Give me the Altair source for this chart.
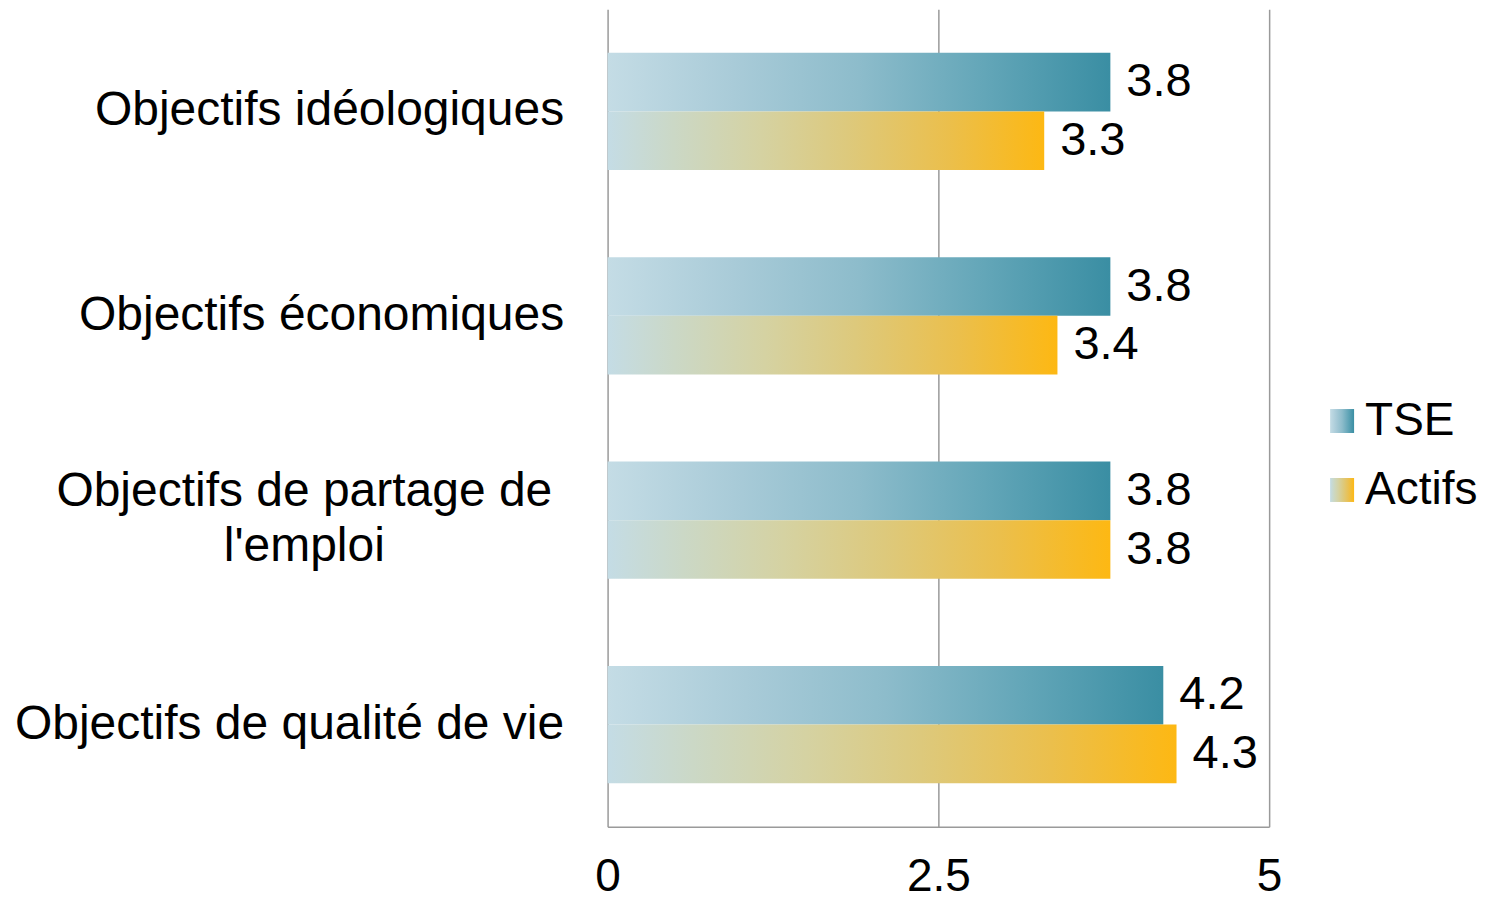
import altair as alt
import pandas as pd

categories = ["Objectifs idéologiques", "Objectifs économiques",
              "Objectifs de partage de l'emploi", "Objectifs de qualité de vie"]
series = ["TSE", "Actifs"]
tse_values = [3.8, 3.8, 3.8, 4.2]
actifs_values = [3.3, 3.4, 3.8, 4.3]
x_ticks = [0, 2.5, 5]

rows = []
for c, t, a in zip(categories, tse_values, actifs_values):
    rows.append({"cat": c, "series": "TSE", "value": t})
    rows.append({"cat": c, "series": "Actifs", "value": a})
df = pd.DataFrame(rows)
legend_df = pd.DataFrame({"series": series, "row": [0, 1]})

FONT = "Liberation Sans"

grad_tse = {"gradient": "linear", "x1": 0, "x2": 1, "y1": 0, "y2": 0,
            "stops": [{"offset": 0, "color": "#c4dce5"},
                      {"offset": 0.25, "color": "#a9cbd8"},
                      {"offset": 0.5, "color": "#8dbccb"},
                      {"offset": 0.75, "color": "#63a6b8"},
                      {"offset": 1, "color": "#3a8ea3"}]}
grad_act = {"gradient": "linear", "x1": 0, "x2": 1, "y1": 0, "y2": 0,
            "stops": [{"offset": 0, "color": "#c4dce5"},
                      {"offset": 0.15, "color": "#cbd8c6"},
                      {"offset": 0.35, "color": "#d5d2a2"},
                      {"offset": 0.55, "color": "#ddc97c"},
                      {"offset": 0.78, "color": "#ebbf4c"},
                      {"offset": 1, "color": "#fdb813"}]}

fill_cond = alt.condition(alt.datum.series == "TSE", alt.value(grad_tse), alt.value(grad_act))

is_wrap = "datum.label == \"Objectifs de partage de l'emploi\""

y_enc = alt.Y("cat:N", sort=categories, title=None,
              scale=alt.Scale(paddingInner=0.4265, paddingOuter=0.213),
              axis=alt.Axis(domain=False, ticks=False, labelFontSize=48, labelFont=FONT,
                            labelColor="#000000", labelLimit=700,
                            labelExpr=is_wrap + " ? ['Objectifs de partage de', \"l'emploi\"] : datum.label",
                            labelLineHeight=55,
                            labelAlign={"condition": {"test": is_wrap, "value": "center"}, "value": "right"},
                            labelOffset={"condition": {"test": is_wrap, "value": -28}, "value": 0},
                            labelPadding={"condition": {"test": is_wrap, "value": 304}, "value": 44}))
yoff = alt.YOffset("series:N", sort=series)
x_enc = alt.X("value:Q", title=None, scale=alt.Scale(domain=[0, 5], nice=False),
              axis=alt.Axis(values=x_ticks, grid=True, gridColor="#9a9a9a", gridWidth=1.5,
                            domainColor="#9a9a9a", domainWidth=1.5, ticks=False,
                            labelFontSize=46, labelFont=FONT, labelColor="#000000",
                            labelPadding=28, labelFlush=False,
                            labelExpr="datum.value == 2.5 ? '2.5' : datum.value"))

bars = alt.Chart(df).mark_bar().encode(y=y_enc, yOffset=yoff, x=x_enc, color=fill_cond)
labels = alt.Chart(df).mark_text(align="left", baseline="middle", dx=16, fontSize=47,
                                 font=FONT, color="#000000").encode(
    y=alt.Y("cat:N", sort=categories), yOffset=yoff, x="value:Q",
    text=alt.Text("value:Q", format=".1f"))

main = alt.layer(bars, labels).properties(width=662, height=818)

leg_y = alt.Y("row:Q", axis=None, scale=alt.Scale(domain=[-5.971, 5.884], reverse=True, nice=False, zero=False))
leg_sq = alt.Chart(legend_df).mark_square(size=576, opacity=1).encode(
    y=leg_y, x=alt.value(60),
    color=alt.condition(alt.datum.series == "TSE", alt.value(grad_tse), alt.value(grad_act)))
leg_tx = alt.Chart(legend_df).mark_text(align="left", baseline="middle", fontSize=46, font=FONT,
                                        color="#000000").encode(
    y=leg_y, x=alt.value(83), text="series:N")
legend = alt.layer(leg_sq, leg_tx).properties(width=150, height=818)

chart = alt.hconcat(main, legend, spacing=0).configure_view(stroke=None).properties(
    padding={"top": 1, "left": 6, "right": 0, "bottom": 0})

chart.save("out.html", embed_options={"renderer": "svg", "actions": False})
